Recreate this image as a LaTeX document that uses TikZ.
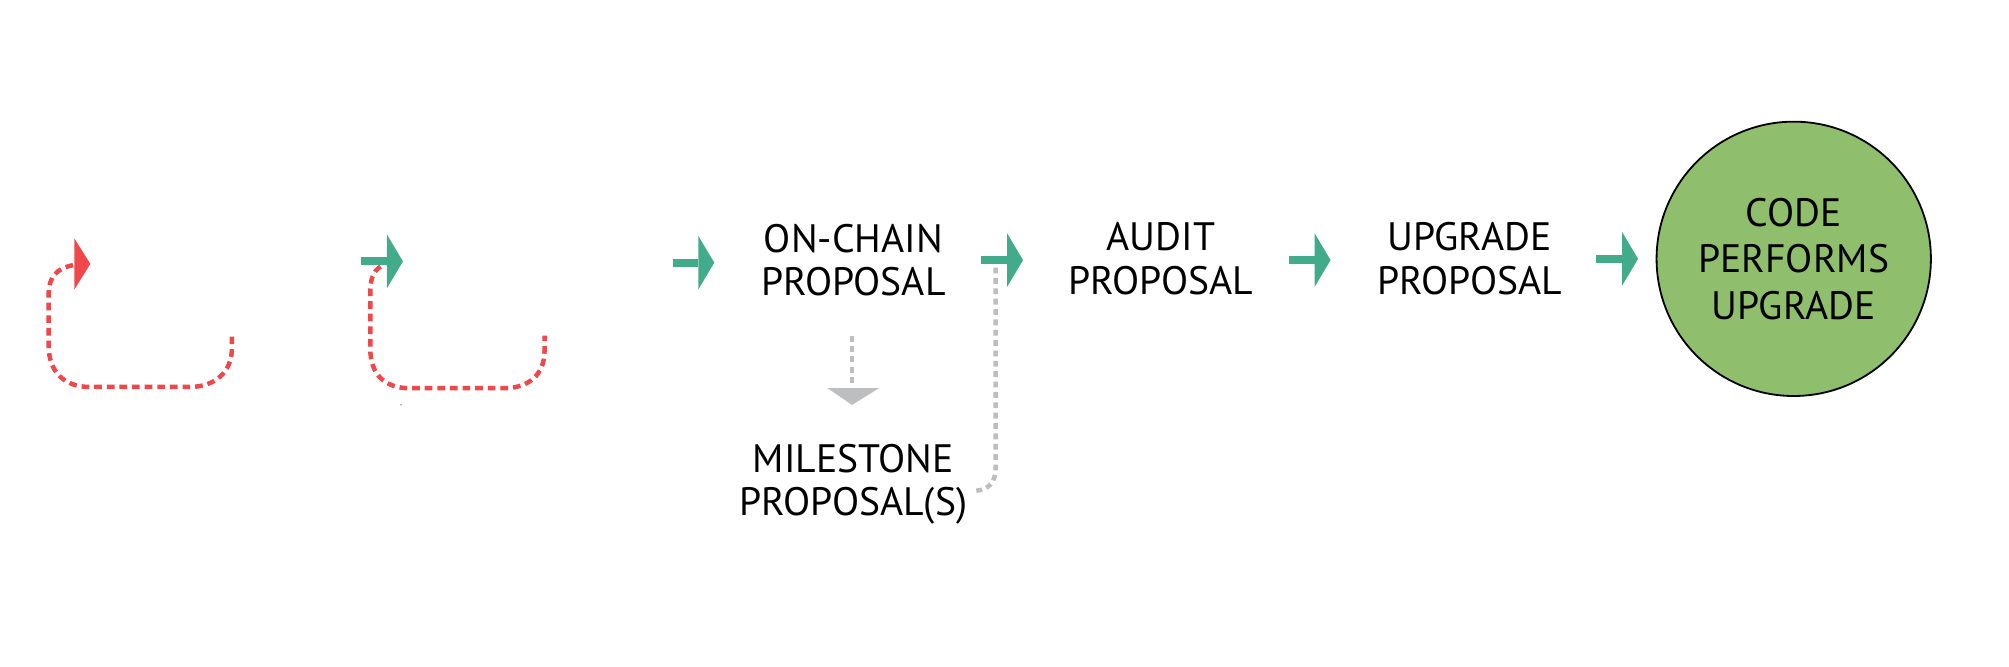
\documentclass[tikz,border=0pt]{standalone}
\usepackage{fontspec}
\setmainfont{PT Sans}
\definecolor{arrgreen}{HTML}{42AB8A}
\definecolor{loopred}{HTML}{F0474A}
\definecolor{dotgray}{HTML}{BDBEC0}
\definecolor{circgreen}{HTML}{8FBF6D}
\newcommand\grnarrow[2]{%
  \fill[arrgreen] (#1-20,#2-3.2) rectangle (#1,#2+3.2);
  \fill[arrgreen] (#1,#2-21) -- (#1+12.5,#2) -- (#1,#2+21) -- cycle;}
\begin{document}
\begin{tikzpicture}[x=0.01cm,y=-0.01cm,
  lbl/.style={align=center,font=\fontsize{8.8}{9.7}\selectfont,inner sep=0pt},
  redloop/.style={draw=loopred,line width=1pt,dash pattern=on 1.7pt off 1.1pt},
  grayline/.style={draw=dotgray,line width=1pt,dash pattern=on 1.3pt off 1pt},
  endcircle/.style={circle,draw=black,line width=0.4pt,fill=circgreen,minimum size=2.14cm,inner sep=0pt,align=center,font=\fontsize{8.8}{10.3}\selectfont}]
\useasboundingbox (0,0) rectangle (1568,520);
% left red loop with red head
\draw[redloop] (57,207) .. controls (45,209) and (38,216) .. (38,229) -- (38,270)
  .. controls (38,290) and (50,302) .. (70,302) -- (148,302)
  .. controls (168,302) and (181,290) .. (181,272) -- (181,262);
\fill[loopred] (58,186) -- (70.5,206) -- (58,226) -- cycle;
% second loop
\draw[redloop] (297,208) .. controls (291,212) and (289,218) .. (289,229) -- (289,272)
  .. controls (289,292) and (300,303) .. (320,303) -- (393,303)
  .. controls (413,303) and (425,292) .. (425,274) -- (425,262);
\grnarrow{302}{204}
\fill[black!60] (313,316) circle (0.6);
\grnarrow{545}{205}
\node[lbl] (onchain) at (666,203) {ON-CHAIN\\PROPOSAL};
\draw[grayline] (665,262) -- (665,300);
\fill[dotgray] (646,303) -- (686,303) -- (665,316) -- cycle;
\node[lbl] (milestone) at (666,378) {MILESTONE\\PROPOSAL(S)};
\draw[grayline] (762,383) .. controls (772,382) and (777,376) .. (777,366) -- (777,207);
\grnarrow{786}{203}
\node[lbl] (audit) at (906,202) {AUDIT\\PROPOSAL};
\grnarrow{1026}{203}
\node[lbl] (upgrade) at (1147,202) {UPGRADE\\PROPOSAL};
\grnarrow{1266}{202}
\node[endcircle] (code) at (1400,202) {CODE\\PERFORMS\\UPGRADE};
\end{tikzpicture}
\end{document}
